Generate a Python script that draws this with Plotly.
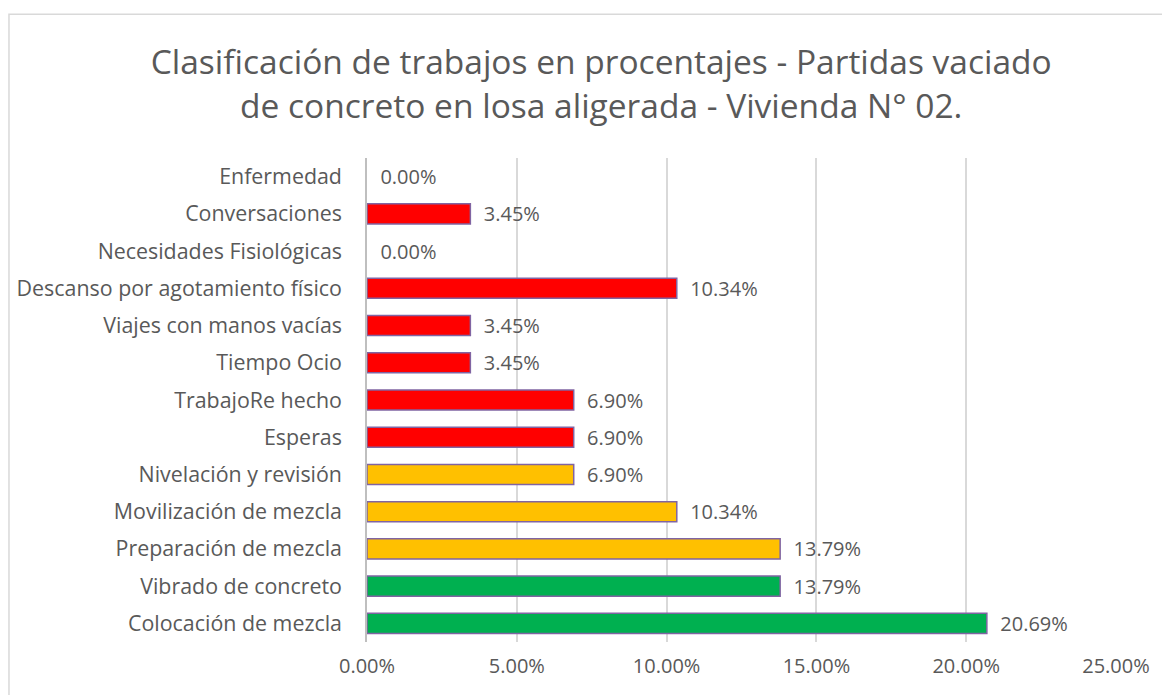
import plotly.graph_objects as go

# categories listed bottom to top
categorias = ["Colocación de mezcla", "Vibrado de concreto", "Preparación de mezcla",
              "Movilización de mezcla", "Nivelación y revisión", "Esperas",
              "TrabajoRe hecho", "Tiempo Ocio", "Viajes con manos vacías",
              "Descanso por agotamiento físico", "Necesidades Fisiológicas",
              "Conversaciones", "Enfermedad"]
porcentajes = [20.69, 13.79, 13.79, 10.34, 6.90, 6.90, 6.90, 3.45, 3.45, 10.34, 0.00, 3.45, 0.00]
tipo = ["TP", "TP", "TC", "TC", "TC", "TNC", "TNC", "TNC", "TNC", "TNC", "TNC", "TNC", "TNC"]
tick_vals = [0, 5, 10, 15, 20, 25]

colores = {"TP": "#00B050", "TC": "#FFC000", "TNC": "#FF0000"}
gris = "#595959"
fuente = "Open Sans"

fig = go.Figure(go.Bar(
    x=porcentajes,
    y=categorias,
    orientation="h",
    width=0.54,
    marker=dict(color=[colores[t] for t in tipo],
                line=dict(color="#8064A2",
                          width=[1.5 if v > 0 else 0 for v in porcentajes])),
    text=["\u00a0\u00a0%.2f%%" % v for v in porcentajes],
    textposition="outside",
    constraintext="none",
    textfont=dict(family=fuente, size=20, color=gris),
    cliponaxis=False,
))

fig.update_layout(
    width=1170, height=695,
    paper_bgcolor="white", plot_bgcolor="white",
    margin=dict(l=359, r=62, t=150, b=61),
    font=dict(family=fuente, size=20, color=gris),
    showlegend=False,
    title=dict(text="Clasificación de trabajos en procentajes - Partidas vaciado<br>de concreto en losa aligerada - Vivienda N° 02.",
               x=0.507, xref="container", xanchor="center",
               y=0.905, yref="container", yanchor="middle",
               font=dict(family=fuente, size=33.5, color=gris)),
    xaxis=dict(range=[0, 25], tickvals=tick_vals,
               ticktext=["%.2f%%" % v for v in tick_vals],
               showgrid=True, gridcolor="#D9D9D9", gridwidth=1.5,
               zeroline=False, showline=False, ticks="", automargin=False,
               ticklabelstandoff=10, tickfont=dict(size=20, color=gris)),
    yaxis=dict(categoryorder="array", categoryarray=categorias,
               showline=True, linecolor="#BFBFBF", linewidth=1.5,
               ticks="", ticklabelstandoff=19, showgrid=False, automargin=False,
               tickfont=dict(size=21.4, color=gris)),
)

# chart border like the original spreadsheet frame
fig.add_shape(type="rect", xref="paper", yref="paper",
              x0=-0.478, y0=-0.13, x1=1.09, y1=1.297,
              line=dict(color="#D9D9D9", width=1.5), fillcolor="rgba(0,0,0,0)")

fig.write_html("out.html")
